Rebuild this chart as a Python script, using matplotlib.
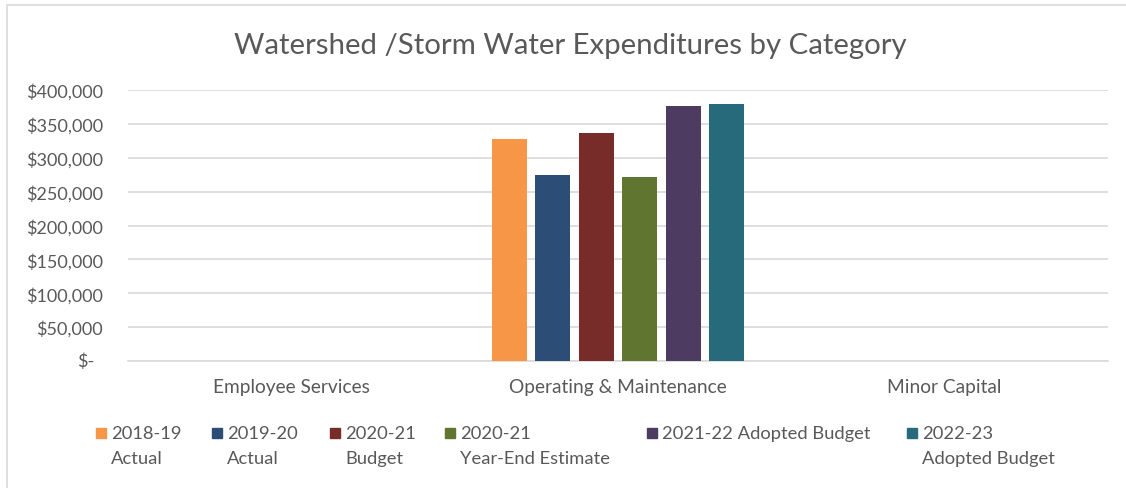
import matplotlib
matplotlib.use("Agg")
import matplotlib.pyplot as plt
from matplotlib.patches import Rectangle
from matplotlib.ticker import FuncFormatter
from matplotlib.transforms import offset_copy
import numpy as np

# Data
categories = ["Employee Services", "Operating & Maintenance", "Minor Capital"]
series_labels = [
    "2018-19\nActual",
    "2019-20\nActual",
    "2020-21\nBudget",
    "2020-21\nYear-End Estimate",
    "2021-22 Adopted Budget",
    "2022-23\nAdopted Budget",
]
v_2018_19_actual = [0, 328000, 0]
v_2019_20_actual = [0, 275000, 0]
v_2020_21_budget = [0, 337000, 0]
v_2020_21_estimate = [0, 272000, 0]
v_2021_22_adopted = [0, 376000, 0]
v_2022_23_adopted = [0, 379000, 0]
series_values = [v_2018_19_actual, v_2019_20_actual, v_2020_21_budget,
                 v_2020_21_estimate, v_2021_22_adopted, v_2022_23_adopted]
y_ticks = [0, 50000, 100000, 150000, 200000, 250000, 300000, 350000, 400000]

colors = ["#F79646", "#2C4D75", "#772C2A", "#5F7530", "#4D3B62", "#276A7C"]
TEXT = "#595959"
GRID = "#D9D9D9"
FONT = "Lato"

W, H = 1126, 489
fig = plt.figure(figsize=(W / 100, H / 100), dpi=100)
fig.patch.set_facecolor("white")

def fx(px):
    return px / W

def fy(py):
    return 1 - py / H

ax = fig.add_axes([fx(128), fy(362), fx(1108) - fx(128), fy(91) - fy(362)])

n = len(series_values)
pitch = 0.8 / n
width = pitch * 0.8
x = np.arange(len(categories))
for j, (vals, c) in enumerate(zip(series_values, colors)):
    ax.bar(x + (j - (n - 1) / 2) * pitch, vals, width=width, color=c, zorder=3)

ax.set_xlim(-0.5, len(categories) - 0.5)
ax.set_ylim(0, 400000)
ax.set_yticks(y_ticks)

# Accounting-style labels: the zero label "$-" sits a little left of the
# right edge of the other amounts, so it is drawn separately.
def money(v, pos):
    return "" if v == 0 else f"${v:,.0f}"

ax.yaxis.set_major_formatter(FuncFormatter(money))
ax.text(0, 0, "$-", ha="right", va="center", fontsize=13, color=TEXT,
        family=FONT,
        transform=offset_copy(ax.get_yaxis_transform(), fig, x=-34, y=0,
                              units="dots"))
ax.set_xticks(x)
ax.set_xticklabels(categories)
for lab in ax.get_yticklabels():
    lab.set_fontfamily(FONT)
    lab.set_fontsize(13)
    lab.set_color(TEXT)
for lab in ax.get_xticklabels():
    lab.set_fontfamily(FONT)
    lab.set_fontsize(13.8)
    lab.set_color(TEXT)
ax.tick_params(axis="y", length=0, pad=18)
ax.tick_params(axis="x", length=0, pad=12)
ax.grid(axis="y", color=GRID, linewidth=1.2, zorder=0)
for s in ["left", "right", "top"]:
    ax.spines[s].set_visible(False)
ax.spines["bottom"].set_color(GRID)
ax.spines["bottom"].set_linewidth(1.2)

fig.text(fx(570), fy(46), "Watershed /Storm Water Expenditures by Category",
         ha="center", va="center", fontsize=21.2, color=TEXT, family=FONT)

# Legend
marker_x = [96, 212, 330, 445, 647, 907]
text_x = [111, 227, 345, 460, 662, 922]
for mx, tx, lab, c in zip(marker_x, text_x, series_labels, colors):
    fig.add_artist(Rectangle((fx(mx), fy(439)), fx(10), 10 / H,
                             transform=fig.transFigure, color=c))
    fig.text(fx(tx), fy(426), lab, ha="left", va="top", fontsize=13.2,
             color=TEXT, family=FONT, linespacing=1.72)

# Chart border
fig.add_artist(Rectangle((fx(7), fy(H + 10)), fx(W + 10), fy(6) - fy(H + 10),
                         transform=fig.transFigure, fill=False,
                         edgecolor=GRID, linewidth=1.2))

fig.savefig("out.png", dpi=100, facecolor="white")
